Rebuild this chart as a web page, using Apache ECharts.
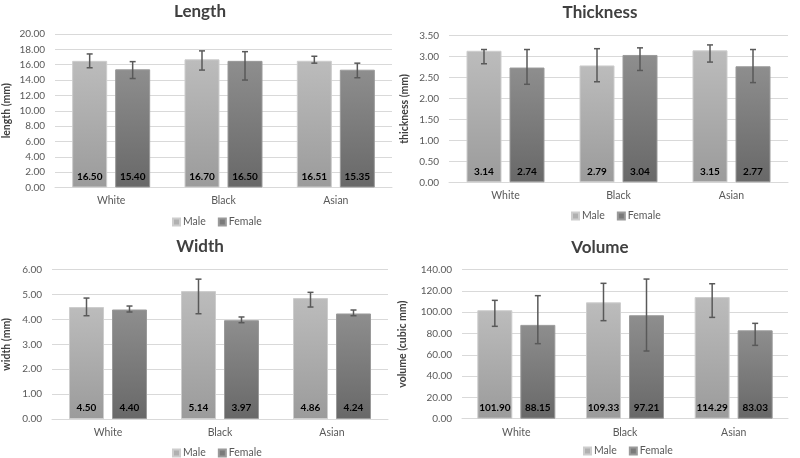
<!DOCTYPE html>
<html>
<head>
<meta charset="utf-8">
<script src="https://cdn.jsdelivr.net/npm/echarts@6/dist/echarts.min.js"></script>
<style>html,body{margin:0;padding:0;background:#fff}#c{width:800px;height:458px}</style>
</head>
<body>
<div id="c"></div>
<script>
var categories = ['White', 'Black', 'Asian'];
var seriesNames = ['Male', 'Female'];

var lengthMale = [16.50, 16.70, 16.51];
var lengthFemale = [15.40, 16.50, 15.35];
var lengthMaleErr = [[15.6, 17.4], [15.3, 17.8], [16.2, 17.1]];
var lengthFemaleErr = [[14.2, 16.4], [14.0, 17.7], [14.3, 16.2]];

var thicknessMale = [3.14, 2.79, 3.15];
var thicknessFemale = [2.74, 3.04, 2.77];
var thicknessMaleErr = [[2.83, 3.17], [2.40, 3.19], [2.87, 3.28]];
var thicknessFemaleErr = [[2.34, 3.17], [2.67, 3.21], [2.38, 3.17]];

var widthMale = [4.50, 5.14, 4.86];
var widthFemale = [4.40, 3.97, 4.24];
var widthMaleErr = [[4.15, 4.86], [4.23, 5.62], [4.50, 5.09]];
var widthFemaleErr = [[4.30, 4.54], [3.87, 4.10], [4.15, 4.38]];

var volumeMale = [101.90, 109.33, 114.29];
var volumeFemale = [88.15, 97.21, 83.03];
var volumeMaleErr = [[86.8, 111.2], [92.1, 127.2], [95.2, 126.8]];
var volumeFemaleErr = [[70.5, 115.6], [63.6, 131.2], [68.9, 89.6]];

var titles = ['Length', 'Thickness', 'Width', 'Volume'];
var axisNames = ['length (mm)', 'thickness (mm)', 'width (mm)', 'volume (cubic mm)'];
var yMax = [20, 3.5, 6, 140];
var yStep = [2, 0.5, 1, 20];

var FONT = 'Lato, "Open Sans", sans-serif';
var panels = [
  {male: lengthMale, female: lengthFemale, me: lengthMaleErr, fe: lengthFemaleErr,
   grid: {left: 50, top: 34, width: 342, height: 153.5}, titleX: 200, titleY: 3, nameGap: 43, legX: 172, legY: 216.5},
  {male: thicknessMale, female: thicknessFemale, me: thicknessMaleErr, fe: thicknessFemaleErr,
   grid: {left: 449, top: 35.7, width: 339, height: 146.6}, titleX: 600, titleY: 4.5, nameGap: 39, legX: 571, legY: 210.5},
  {male: widthMale, female: widthFemale, me: widthMaleErr, fe: widthFemaleErr,
   grid: {left: 50, top: 269.7, width: 338, height: 149.3}, titleX: 200, titleY: 238, nameGap: 40, legX: 172, legY: 447.5},
  {male: volumeMale, female: volumeFemale, me: volumeMaleErr, fe: volumeFemaleErr,
   grid: {left: 462, top: 269.7, width: 326, height: 149}, titleX: 600, titleY: 239, nameGap: 54, legX: 583, legY: 445.5}
];

var BAR_W = 35, GAP = 8;
var maleColor = new echarts.graphic.LinearGradient(0, 0, 0, 1, [{offset: 0, color: '#bcbcbc'}, {offset: 1, color: '#9b9b9b'}]);
var femaleColor = new echarts.graphic.LinearGradient(0, 0, 0, 1, [{offset: 0, color: '#8e8e8e'}, {offset: 1, color: '#686868'}]);

var option = {
  animation: false,
  backgroundColor: '#ffffff',
  textStyle: {fontFamily: FONT},
  title: [], legend: [], grid: [], xAxis: [], yAxis: [], series: []
};

function errRender(params, api) {
  var ci = api.value(0), lo = api.value(1), hi = api.value(2), s = api.value(3);
  var pTop = api.coord([ci, hi]);
  var pBot = api.coord([ci, lo]);
  var x = pTop[0] + (s === 0 ? -1 : 1) * (BAR_W + GAP) / 2;
  var st = {stroke: '#595959', lineWidth: 1.5};
  return {
    type: 'group',
    children: [
      {type: 'line', shape: {x1: x, y1: pTop[1], x2: x, y2: pBot[1]}, style: st},
      {type: 'line', shape: {x1: x - 3, y1: pTop[1], x2: x + 3, y2: pTop[1]}, style: st},
      {type: 'line', shape: {x1: x - 3, y1: pBot[1], x2: x + 3, y2: pBot[1]}, style: st}
    ]
  };
}

panels.forEach(function (p, i) {
  option.title.push({
    text: titles[i], left: p.titleX, top: p.titleY, textAlign: 'center', padding: 0,
    textStyle: {fontFamily: FONT, fontSize: 17, fontWeight: 'bold', color: '#404040'}
  });
  option.legend.push({
    left: p.legX, top: p.legY, padding: 0, itemWidth: 7, itemHeight: 7, itemGap: 12, selectedMode: false,
    textStyle: {fontFamily: FONT, fontSize: 10.5, color: '#595959', padding: [0, 0, 0, -2]},
    data: [
      {name: 'Male', icon: 'rect', itemStyle: {color: '#b0b0b0'}},
      {name: 'Female', icon: 'rect', itemStyle: {color: '#7a7a7a'}}
    ]
  });
  option.grid.push(p.grid);
  option.xAxis.push({
    type: 'category', gridIndex: i, data: categories,
    axisLine: {lineStyle: {color: '#d9d9d9'}}, axisTick: {show: false},
    axisLabel: {color: '#595959', fontSize: 10.5, margin: 8, fontFamily: FONT}
  });
  option.yAxis.push({
    type: 'value', gridIndex: i, min: 0, max: yMax[i], interval: yStep[i],
    name: axisNames[i], nameLocation: 'middle', nameGap: p.nameGap, nameRotate: 90,
    nameTextStyle: {fontFamily: FONT, fontSize: 10.5, fontWeight: 'bold', color: '#404040'},
    axisLine: {show: false}, axisTick: {show: false},
    axisLabel: {color: '#595959', fontSize: 10, margin: 10, fontFamily: FONT,
      formatter: function (v) { return v.toFixed(2); }},
    splitLine: {lineStyle: {color: '#d9d9d9', width: 1}}
  });
  var lbl = {
    show: true, position: 'insideBottom', distance: 6,
    fontFamily: FONT, fontSize: 10, fontWeight: 'bold', color: '#000',
    formatter: function (d) { return d.value.toFixed(2); }
  };
  option.series.push({
    name: 'Male', type: 'bar', xAxisIndex: i, yAxisIndex: i, data: p.male,
    barWidth: BAR_W, barGap: (GAP / BAR_W * 100) + '%',
    itemStyle: {color: maleColor, borderColor: '#cdcdcd', borderWidth: 1},
    label: lbl
  });
  option.series.push({
    name: 'Female', type: 'bar', xAxisIndex: i, yAxisIndex: i, data: p.female,
    barWidth: BAR_W, barGap: (GAP / BAR_W * 100) + '%',
    itemStyle: {color: femaleColor, borderColor: '#9a9a9a', borderWidth: 1},
    label: lbl
  });
  var errData = [];
  for (var k = 0; k < categories.length; k++) {
    errData.push([k, p.me[k][0], p.me[k][1], 0]);
    errData.push([k, p.fe[k][0], p.fe[k][1], 1]);
  }
  option.series.push({
    type: 'custom', xAxisIndex: i, yAxisIndex: i, renderItem: errRender,
    data: errData, z: 10, silent: true
  });
});

var chart = echarts.init(document.getElementById('c'), null, {renderer: 'canvas'});
chart.setOption(option);
</script>
</body>
</html>
